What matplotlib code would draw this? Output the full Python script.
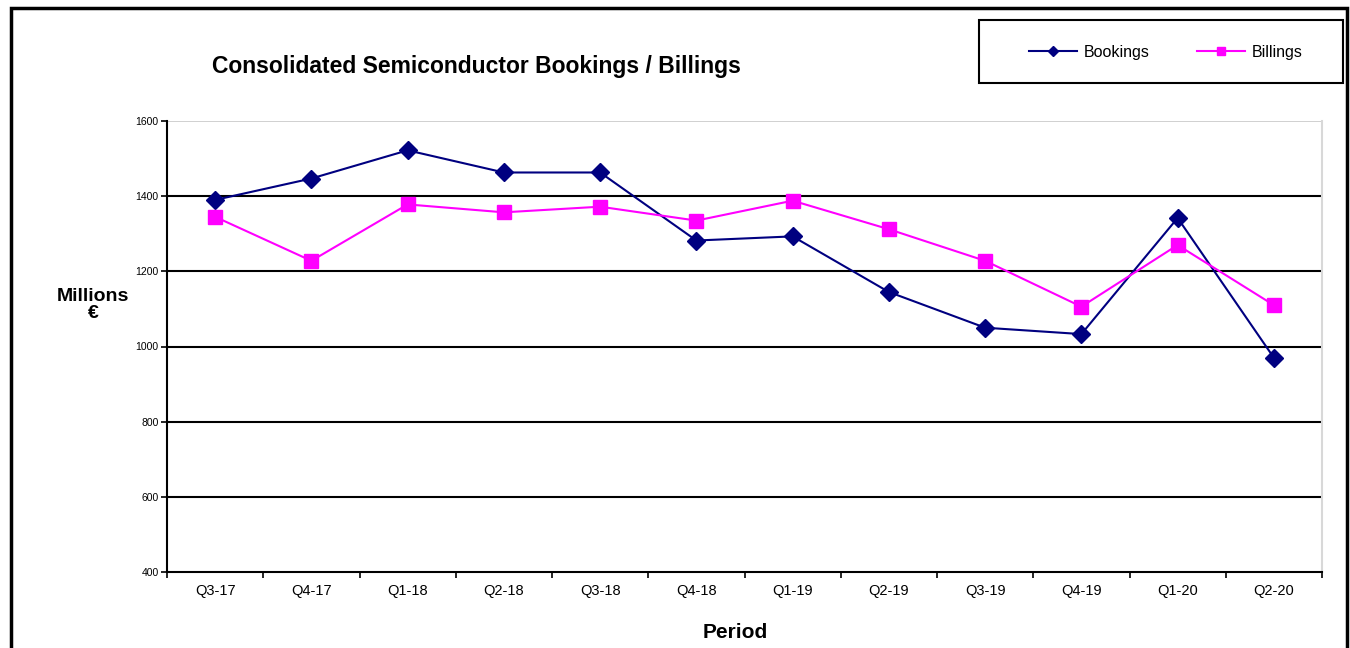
import matplotlib.pyplot as plt
from matplotlib.patches import Rectangle
import numpy as np

plt.rcParams['font.family'] = ['Liberation Sans', 'DejaVu Sans']

periods = ["Q3-17", "Q4-17", "Q1-18", "Q2-18", "Q3-18", "Q4-18",
           "Q1-19", "Q2-19", "Q3-19", "Q4-19", "Q1-20", "Q2-20"]
bookings = [1390, 1447, 1522, 1463, 1463, 1282, 1293, 1145, 1050, 1033, 1342, 970]
billings = [1345, 1228, 1378, 1357, 1372, 1335, 1388, 1312, 1228, 1106, 1270, 1110]
y_ticks = [400, 600, 800, 1000, 1200, 1400, 1600]

W, H = 1350, 648
fig = plt.figure(figsize=(W / 100, H / 100), dpi=100)

# outer frame of the chart object
fig.patches.append(Rectangle((11 / W, -0.05), (1347 - 11) / W, 1.05 - 8 / H,
                             transform=fig.transFigure, fill=False,
                             edgecolor="black", linewidth=2.5))
# legend box
fig.patches.append(Rectangle((979 / W, 1 - 83 / H), (1343 - 979) / W, 63 / H,
                             transform=fig.transFigure, fill=False,
                             edgecolor="black", linewidth=1.5))

ax = fig.add_axes([167 / W, 1 - 572 / H, (1322 - 167) / W, (572 - 121) / H])
x = np.arange(len(periods))

ax.plot(x, bookings, color="#000080", lw=1.5, marker="D", ms=9.5,
        label="Bookings", zorder=3)
ax.plot(x, billings, color="#FF00FF", lw=1.5, marker="s", ms=10,
        label="Billings", zorder=3)

ax.set_xlim(-0.5, len(periods) - 0.5)
ax.set_ylim(400, 1600)
ax.set_yticks(y_ticks)
ax.set_yticklabels([str(v) for v in y_ticks], fontsize=7.5)
for v in y_ticks[1:-1]:
    ax.axhline(v, color="black", lw=1.5, zorder=1)
ax.axhline(1600, color="#c8c8c8", lw=1.2, zorder=1)

ax.set_xticks(x)
ax.set_xticklabels(periods, fontsize=10.5)
ax.set_xticks(np.arange(-0.5, len(periods)), minor=True)
ax.tick_params(axis="x", which="major", length=0, pad=9)
ax.tick_params(axis="x", which="minor", length=4, width=1.2, direction="out")
ax.tick_params(axis="y", length=4, width=1.2, direction="out", pad=2)

ax.spines["top"].set_visible(False)
ax.spines["right"].set_color("#d8d8d8")
ax.spines["right"].set_linewidth(1.5)
ax.spines["left"].set_linewidth(1.5)
ax.spines["bottom"].set_linewidth(1.5)

fig.text(476 / W, 1 - 67 / H, "Consolidated Semiconductor Bookings / Billings",
         fontsize=16.5, fontweight="bold", ha="center", va="center")
fig.text(93 / W, 1 - 305 / H, "Millions\n€", fontsize=14, fontweight="bold",
         ha="center", va="center", linespacing=1.05)
fig.text(735 / W, 1 - 632 / H, "Period", fontsize=15, fontweight="bold",
         ha="center", va="center")

leg = fig.legend(loc="center", ncol=2, frameon=False,
                 bbox_to_anchor=(1166 / W, 1 - 52 / H),
                 fontsize=11.5, markerscale=0.55, handlelength=3.0,
                 handletextpad=0.4, columnspacing=3.0)

fig.savefig("out.png", dpi=100)
